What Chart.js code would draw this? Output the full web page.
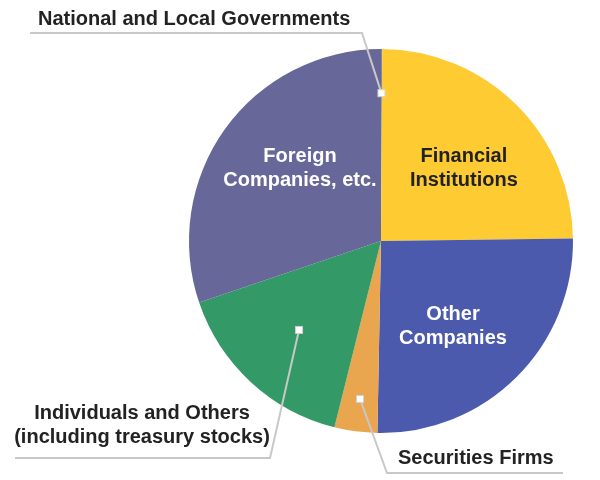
<!DOCTYPE html>
<html>
<head>
<meta charset="utf-8">
<script src="https://cdn.jsdelivr.net/npm/chart.js@4"></script>
<style>
    html, body { margin: 0; padding: 0; background: #fff; }
    #wrap { width: 600px; height: 480px; }
</style>
</head>
<body>
<div id="wrap"><canvas id="shareChart" width="600" height="480"></canvas></div>
<script>
// Shareholding by owner type (%)
const categories = [
    'National and Local Governments',
    'Financial Institutions',
    'Other Companies',
    'Securities Firms',
    'Individuals and Others (including treasury stocks)',
    'Foreign Companies, etc.'
];
const shares = [0.1, 24.7, 25.5, 3.6, 15.9, 30.2];
const labelLines = [
    ['National and Local Governments'],
    ['Financial', 'Institutions'],
    ['Other', 'Companies'],
    ['Securities Firms'],
    ['Individuals and Others', '(including treasury stocks)'],
    ['Foreign', 'Companies, etc.']
];
const sliceColors = ['#8a8a8a', '#ffcb33', '#4c5aae', '#eaa54f', '#339966', '#676799'];

// label placement (inside labels: offset from centre in radius units,
// outside labels: marker at mid angle, elbow/end relative to centre in px)
const placement = [
    { type: 'out', f: 0.77, elbow: [-19, -208], endX: -351, textX: -343, textY: -222, align: 'left' },
    { type: 'in', fx: 0.432, fy: -0.38, color: '#222222' },
    { type: 'in', fx: 0.375, fy: 0.446, color: '#ffffff' },
    { type: 'out', f: 0.83, elbow: [6, 232], endX: 182, textX: 17, textY: 217, align: 'left' },
    { type: 'out', f: 0.63, elbow: [-111, 217], endX: -366, textX: -239, textY: 184, align: 'center' },
    { type: 'in', fx: -0.422, fy: -0.38, color: '#ffffff' }
];

const FONT = 'bold 20px "Liberation Sans", Arial, sans-serif';
const LINE_H = 24;

const pieLabels = {
    id: 'pieLabels',
    afterDatasetsDraw(chart) {
        const ctx = chart.ctx;
        const arcs = chart.getDatasetMeta(0).data;
        ctx.save();
        ctx.font = FONT;
        ctx.textBaseline = 'middle';
        arcs.forEach((arc, i) => {
            const p = placement[i];
            const cx = arc.x, cy = arc.y, r = arc.outerRadius;
            const lines = labelLines[i];
            if (p.type === 'in') {
                ctx.fillStyle = p.color;
                ctx.textAlign = 'center';
                const y0 = cy + p.fy * r - (lines.length - 1) * LINE_H / 2;
                lines.forEach((t, k) => ctx.fillText(t, cx + p.fx * r, y0 + k * LINE_H));
                return;
            }
            const mid = (arc.startAngle + arc.endAngle) / 2;
            const mx = cx + Math.cos(mid) * r * p.f;
            const my = cy + Math.sin(mid) * r * p.f;
            ctx.strokeStyle = '#c8c8c8';
            ctx.lineWidth = 2;
            ctx.beginPath();
            ctx.moveTo(mx, my);
            ctx.lineTo(cx + p.elbow[0], cy + p.elbow[1]);
            ctx.lineTo(cx + p.endX, cy + p.elbow[1]);
            ctx.stroke();
            ctx.fillStyle = '#ffffff';
            ctx.fillRect(mx - 3.5, my - 3.5, 7, 7);
            ctx.lineWidth = 1;
            ctx.strokeStyle = '#d0d0d0';
            ctx.strokeRect(mx - 3.5, my - 3.5, 7, 7);
            ctx.fillStyle = '#222222';
            ctx.textAlign = p.align;
            const y0 = cy + p.textY - (lines.length - 1) * LINE_H / 2;
            lines.forEach((t, k) => ctx.fillText(t, cx + p.textX, y0 + k * LINE_H));
        });
        ctx.restore();
    }
};

new Chart(document.getElementById('shareChart'), {
    type: 'pie',
    data: {
        labels: categories,
        datasets: [{
            data: shares,
            backgroundColor: sliceColors,
            borderWidth: 0
        }]
    },
    options: {
        responsive: false,
        animation: false,
        layout: { padding: { left: 189, right: 27, top: 49, bottom: 47 } },
        plugins: {
            legend: { display: false },
            tooltip: { enabled: false }
        }
    },
    plugins: [pieLabels]
});
</script>
</body>
</html>
